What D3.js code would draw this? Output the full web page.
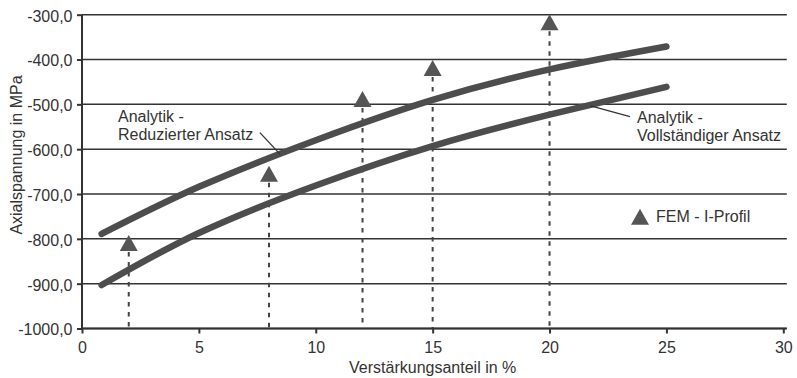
<!DOCTYPE html>
<html>
<head>
<meta charset="utf-8">
<script src="https://cdn.jsdelivr.net/npm/d3@7"></script>
<style>
body { margin: 0; background: #fff; }
svg { font-family: 'Liberation Sans', Arial, sans-serif; }
text { fill: #333; font-size: 16px; }
</style>
</head>
<body>
<div id="chart"></div>
<script>
var xTicks = [0, 5, 10, 15, 20, 25, 30]
var yTicks = [-1000, -900, -800, -700, -600, -500, -400, -300]

var curveX = [0.84, 5, 10, 15, 20, 25]
var reduziertY = [-789, -684, -580, -490, -422, -371]
var vollstaendigY = [-903, -787, -681, -593, -523, -461]

var femX = [2, 8, 12, 15, 20]
var femY = [-809, -655, -488, -419, -317]

var xLabel = 'Verstärkungsanteil in %'
var yLabel = 'Axialspannung in MPa'

var totalWidth = 797, totalHeight = 378
var margin = {left: 82, right: 13.7, top: 14.7, bottom: 49.5}
var width = totalWidth - margin.left - margin.right
var height = totalHeight - margin.top - margin.bottom

var svg = d3.select('#chart').append('svg')
  .attr('width', totalWidth).attr('height', totalHeight)
var g = svg.append('g').attr('transform', 'translate(' + margin.left + ',' + margin.top + ')')

var x = d3.scaleLinear().domain([0, 30]).range([0, width])
var y = d3.scaleLinear().domain([-1000, -300]).range([height, 0])

var locale = d3.formatLocale({decimal: ',', thousands: '.', grouping: [3], currency: ['', ''], minus: '-'})
var fmt = locale.format('.1f')

var ink = '#4d4d4d'

// grid
g.selectAll('line.grid').data(yTicks).join('line')
  .attr('class', 'grid')
  .attr('x1', 0).attr('x2', width + 3.5)
  .attr('y1', d => y(d)).attr('y2', d => y(d))
  .attr('stroke', '#333').attr('stroke-width', 1.5)

// dashed drop lines + triangles
var fem = femX.map((d, i) => ({x: d, y: femY[i]}))
g.selectAll('line.drop').data(fem).join('line')
  .attr('x1', d => x(d.x)).attr('x2', d => x(d.x))
  .attr('y1', d => y(d.y) + 9).attr('y2', height)
  .attr('stroke', '#444').attr('stroke-width', 2)
  .attr('stroke-dasharray', '4.5,5.5')

// curves
var line = d3.line().x(d => x(d.x)).y(d => y(d.y)).curve(d3.curveNatural)
;[reduziertY, vollstaendigY].forEach(function(ys){
  g.append('path')
    .attr('d', line(curveX.map((d, i) => ({x: d, y: ys[i]}))))
    .attr('fill', 'none').attr('stroke', ink)
    .attr('stroke-width', 6.5).attr('stroke-linecap', 'round')
})

var tri = 'M0,-8L9,8L-9,8Z'
g.selectAll('path.fem').data(fem).join('path')
  .attr('d', tri)
  .attr('transform', d => 'translate(' + x(d.x) + ',' + y(d.y) + ')')
  .attr('fill', '#555')

// axes
var xAxis = g.append('g').attr('transform', 'translate(0,' + height + ')')
  .call(d3.axisBottom(x).tickValues(xTicks).tickSize(5).tickPadding(8).tickFormat(d3.format('d')))
var yAxis = g.append('g')
  .call(d3.axisLeft(y).tickValues(yTicks).tickSize(5).tickPadding(4.5).tickFormat(fmt))
;[xAxis, yAxis].forEach(function(a){
  a.select('.domain').remove()
  a.selectAll('line').attr('stroke', '#333').attr('stroke-width', 2)
  a.selectAll('text').attr('font-size', null).attr('font-family', null).style('fill', '#333')
})
yAxis.selectAll('text').attr('dy', '0.4em')
g.append('line').attr('x1', 0).attr('x2', width + 3.5).attr('y1', height).attr('y2', height)
  .attr('stroke', '#333').attr('stroke-width', 2)
g.append('line').attr('x1', 0).attr('x2', 0).attr('y1', 0).attr('y2', height + 1)
  .attr('stroke', '#333').attr('stroke-width', 2)

// axis titles
g.append('text').attr('x', x(15)).attr('y', height + 45)
  .attr('text-anchor', 'middle').text(xLabel)
svg.append('text').attr('transform', 'translate(22,155) rotate(-90)')
  .attr('text-anchor', 'middle').text(yLabel)

// annotations
function annotate(lx, ly, lines, from, to){
  var t = g.append('text').attr('x', x(lx)).attr('y', y(ly))
  lines.forEach(function(s, i){
    t.append('tspan').attr('x', x(lx)).attr('dy', i ? 18 : 0).text(s)
  })
  g.append('line')
    .attr('x1', x(from[0])).attr('y1', y(from[1]))
    .attr('x2', x(to[0])).attr('y2', y(to[1]))
    .attr('stroke', '#333').attr('stroke-width', 1.3)
}
annotate(1.54, -539, ['Analytik -', 'Reduzierter Ansatz'], [7.61, -563], [8.47, -611])
annotate(23.74, -541.6, ['Analytik -', 'Vollständiger Ansatz'], [23.44, -527.5], [21.76, -503.6])

// legend
var leg = g.append('g').attr('transform', 'translate(' + x(23.87) + ',' + y(-750.6) + ')')
leg.append('path').attr('d', tri).attr('fill', '#555')
leg.append('text').attr('x', 16).attr('y', 5.5).text('FEM - I-Profil')
</script>
</body>
</html>
